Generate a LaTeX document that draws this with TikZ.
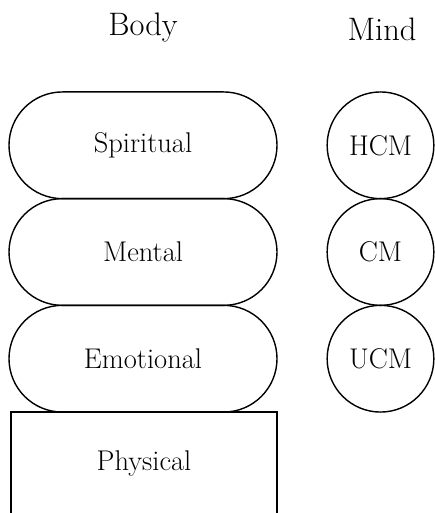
\documentclass[tikz,border=0pt]{standalone}
\usepackage{fontspec}
\usetikzlibrary{shapes.misc}
\begin{document}
\begin{tikzpicture}[x=1pt,y=-1pt,
  every node/.style={inner sep=0pt,outer sep=0pt,font=\fontsize{28.5}{32}\selectfont},
  pill/.style={draw,line width=1.4pt,rounded rectangle,minimum width=268pt,minimum height=106.7pt},
  mindball/.style={draw,line width=1.4pt,circle,minimum size=106.7pt},
  heading/.style={anchor=base,font=\fontsize{32.5}{36}\selectfont}]
\useasboundingbox (0,0) rectangle (434,513);
\node[heading] (body) at (143,35.5) {Body};
\node[heading] (mind) at (382,40.5) {Mind};
\node[pill] (spiritual) at (143,145.3) {Spiritual};
\node[pill] (mental) at (143,252) {Mental};
\node[pill] (emotional) at (143,358.7) {Emotional};
\node[mindball] (hcm) at (380.5,145.3) {HCM};
\node[mindball] (cm) at (380.5,252) {CM};
\node[mindball] (ucm) at (380.5,358.7) {UCM};
\coordinate (pbl) at (11,516);
\coordinate (ptl) at (11,412);
\coordinate (ptr) at (277,412);
\coordinate (pbr) at (277,516);
\draw[line width=1.4pt] (pbl) -- (ptl) -- (ptr) -- (pbr);
\node (physical) at (144,463) {Physical};
\end{tikzpicture}
\end{document}
